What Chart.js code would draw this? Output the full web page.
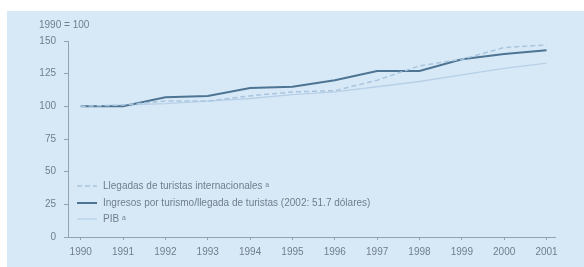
<!DOCTYPE html>
<html>
<head>
<meta charset="utf-8">
<script src="https://cdn.jsdelivr.net/npm/chart.js@4/dist/chart.umd.min.js"></script>
<style>
  html, body { margin: 0; padding: 0; background: #fff; }
  #wrap { width: 584px; height: 267px; }
</style>
</head>
<body>
<div id="wrap"><canvas id="chart" width="584" height="267"></canvas></div>
<script>
// === datos ===
const years = [1990, 1991, 1992, 1993, 1994, 1995, 1996, 1997, 1998, 1999, 2000, 2001];
const llegadas = [100, 101, 104, 104, 108, 111, 112, 120, 131, 136, 145, 147];
const ingresosPorLlegada = [100, 100, 107, 108, 114, 115, 120, 127, 127, 136, 140, 143];
const pib = [100, 101, 102, 104, 106, 109, 111, 115, 119, 124, 129, 133];
const yTicks = [0, 25, 50, 75, 100, 125, 150];
const legendLabels = [
    "Llegadas de turistas internacionales \u1d43",
    "Ingresos por turismo/llegada de turistas (2002: 51.7 dólares)",
    "PIB \u1d43"
];

const textColor = "#707e8b";
const axisColor = "#8fa3b4";
const font = "Liberation Sans, Arial, sans-serif";

// === fondo, título y leyenda ===
const decor = {
    id: "decor",
    beforeDraw(chart) {
        const c = chart.ctx;
        c.save();
        c.fillStyle = "#ffffff";
        c.fillRect(0, 0, chart.width, chart.height);
        c.fillStyle = "#d7e9f7";
        c.fillRect(7, 11, chart.width - 7, chart.height - 11);
        c.restore();
    },
    afterDraw(chart) {
        const c = chart.ctx;
        c.save();
        c.fillStyle = textColor;
        c.font = "10px " + font;
        c.textBaseline = "middle";
        c.fillText("1990 = 100", 39, 25);

        const ds = chart.data.datasets;
        const rows = [186, 203, 219];
        ds.forEach((d, i) => {
            c.strokeStyle = d.borderColor;
            c.lineWidth = d.borderWidth;
            c.setLineDash(d.borderDash || []);
            c.beginPath();
            c.moveTo(77, rows[i]);
            c.lineTo(97, rows[i]);
            c.stroke();
            c.setLineDash([]);
            c.fillStyle = textColor;
            c.font = "10px " + font;
            c.fillText(legendLabels[i], 103, rows[i]);
        });
        c.restore();
    }
};

const ctx = document.getElementById("chart").getContext("2d");
new Chart(ctx, {
    type: "line",
    data: {
        datasets: [
            {
                data: years.map((y, i) => ({ x: y, y: llegadas[i] })),
                borderColor: "#a9c5de",
                borderWidth: 1.5,
                borderDash: [5, 3],
                pointRadius: 0,
                tension: 0
            },
            {
                data: years.map((y, i) => ({ x: y, y: ingresosPorLlegada[i] })),
                borderColor: "#4d7493",
                borderWidth: 2,
                pointRadius: 0,
                tension: 0
            },
            {
                data: years.map((y, i) => ({ x: y, y: pib[i] })),
                borderColor: "#b7d0e6",
                borderWidth: 1.3,
                pointRadius: 0,
                tension: 0
            }
        ]
    },
    options: {
        responsive: false,
        animation: false,
        layout: { padding: { left: 0, top: 41, right: 29, bottom: 0 } },
        plugins: {
            legend: { display: false },
            tooltip: { enabled: false }
        },
        scales: {
            x: {
                type: "linear",
                min: 1989.7,
                max: 2001.2,
                afterBuildTicks: (scale) => {
                    scale.ticks = years.map(v => ({ value: v }));
                },
                afterFit: (scale) => { scale.height = 30; },
                grid: { drawOnChartArea: false, tickLength: 3, color: axisColor },
                border: { display: true, color: axisColor, width: 1 },
                ticks: {
                    color: textColor,
                    font: { family: font, size: 10 },
                    maxRotation: 0,
                    autoSkip: false,
                    padding: 6,
                    callback: (v) => String(v)
                }
            },
            y: {
                min: 0,
                max: 150,
                afterBuildTicks: (scale) => {
                    scale.ticks = yTicks.map(v => ({ value: v }));
                },
                afterFit: (scale) => { scale.width = 68; },
                grid: { drawOnChartArea: false, tickLength: 4, color: axisColor },
                border: { display: true, color: axisColor, width: 1 },
                ticks: {
                    color: textColor,
                    font: { family: font, size: 10 },
                    padding: 8
                }
            }
        }
    },
    plugins: [decor]
});
</script>
</body>
</html>
